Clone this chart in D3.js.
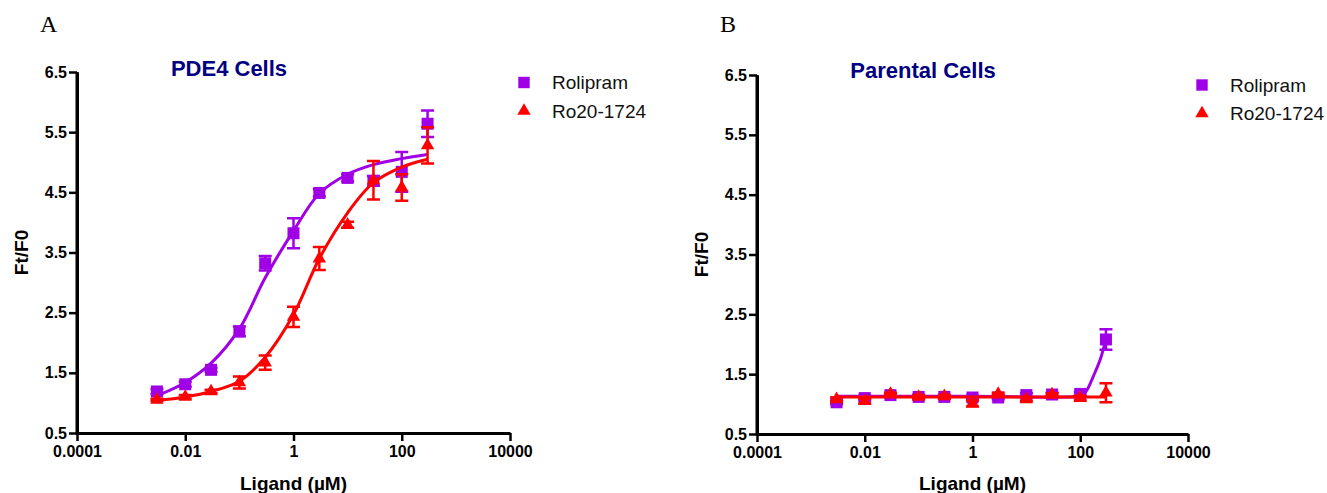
<!DOCTYPE html>
<html>
<head>
<meta charset="utf-8">
<script src="https://cdn.jsdelivr.net/npm/d3@7"></script>
<style>
  body { margin: 0; background: #fff; }
  svg { display: block; }
  .tick text { font-family: "Liberation Sans", Arial, sans-serif; font-weight: bold; font-size: 16px; fill: #000; }
</style>
</head>
<body>
<svg id="chart" width="1327" height="493"></svg>
<script>
// concentrations (µM) used for both compounds in both panels
const conc = [0.003, 0.01, 0.03, 0.1, 0.3, 1, 3, 10, 30, 100, 300];
const xTicks = [0.0001, 0.01, 1, 100, 10000];
const xTickLabels = ["0.0001", "0.01", "1", "100", "10000"];
const yTicks = [0.5, 1.5, 2.5, 3.5, 4.5, 5.5, 6.5];
const seriesNames = ["Rolipram", "Ro20-1724"];

// Panel A: PDE4 cells
const aRoliMean = [1.19, 1.31, 1.55, 2.19, 3.32, 3.82, 4.49, 4.74, 4.69, 4.84, 5.64];
const aRoliErr  = [0.04, 0.04, 0.03, 0.08, 0.12, 0.25, 0.06, 0.06, 0.08, 0.33, 0.22];
const aRoMean   = [1.05, 1.10, 1.19, 1.34, 1.67, 2.43, 3.40, 3.96, 4.70, 4.58, 5.28];
const aRoErr    = [0.02, 0.03, 0.03, 0.10, 0.12, 0.17, 0.19, 0.05, 0.32, 0.22, 0.30];
// fitted curves
const aRoliFitX = conc;
const aRoliFitY = [1.12, 1.34, 1.66, 2.23, 3.08, 3.86, 4.48, 4.80, 4.96, 5.06, 5.13];
const aRoFitX   = conc;
const aRoFitY   = [1.04, 1.10, 1.19, 1.36, 1.76, 2.47, 3.40, 4.16, 4.66, 4.92, 5.05];

// Panel B: parental cells
const bRoliMean = [1.03, 1.10, 1.15, 1.12, 1.12, 1.11, 1.11, 1.15, 1.16, 1.17, 2.08];
const bRoliErr  = [0.03, 0.04, 0.03, 0.03, 0.03, 0.03, 0.03, 0.03, 0.03, 0.03, 0.17];
const bRoMean   = [1.08, 1.05, 1.17, 1.12, 1.13, 1.01, 1.17, 1.08, 1.16, 1.10, 1.19];
const bRoErr    = [0.03, 0.04, 0.02, 0.03, 0.02, 0.05, 0.02, 0.03, 0.02, 0.04, 0.16];
const bRoliFitX = [0.003, 1, 100, 112, 140, 174, 234, 288, 300];
const bRoliFitY = [1.13, 1.13, 1.13, 1.15, 1.27, 1.46, 1.74, 2.02, 2.08];
const bRoFitX   = [0.003, 300];
const bRoFitY   = [1.12, 1.12];

const purple = "#a000e6";
const red = "#ff0000";
const navy = "#000080";
const font = "'Liberation Sans', Arial, sans-serif";

const svg = d3.select("#chart");

function drawPanel(p) {
  const g = svg.append("g");

  const x = d3.scaleLog().domain([0.0001, 10000]).range([p.x0, p.x1]);
  const y = d3.scaleLinear().domain([0.5, 6.5]).range([p.y0, p.y1]);

  // panel letter
  g.append("text")
    .attr("x", p.x0 - 37).attr("y", 32)
    .attr("font-family", "'Liberation Serif', 'Times New Roman', serif")
    .attr("font-size", 24)
    .text(p.letter);

  // title
  g.append("text")
    .attr("x", p.titleX).attr("y", p.titleY)
    .attr("text-anchor", "middle")
    .attr("font-family", font).attr("font-weight", "bold")
    .attr("font-size", 22).attr("fill", navy)
    .text(p.title);

  // axes
  const xAxis = g.append("g")
    .attr("transform", `translate(0,${p.y0})`)
    .call(d3.axisBottom(x).tickValues(xTicks).tickFormat((d, i) => xTickLabels[i])
      .tickSize(8).tickSizeOuter(0).tickPadding(5));
  const yAxis = g.append("g")
    .attr("transform", `translate(${p.x0},0)`)
    .call(d3.axisLeft(y).tickValues(yTicks).tickFormat(d3.format(".1f"))
      .tickSize(8).tickSizeOuter(0).tickPadding(2));
  [xAxis, yAxis].forEach(a => {
    a.select(".domain").attr("stroke", "#000").attr("stroke-width", 3);
    a.selectAll(".tick line").attr("stroke", "#000").attr("stroke-width", 2.5);
  });
  // close the corner
  g.append("path")
    .attr("d", `M${p.x0},${p.y0 + 1.5}V${p.y1}`)
    .attr("stroke", "#000").attr("stroke-width", 3);

  g.append("text")
    .attr("transform", `translate(${p.x0 - 56},${(p.y0 + p.y1) / 2}) rotate(-90)`)
    .attr("text-anchor", "middle").attr("dy", "0.35em")
    .attr("font-family", font).attr("font-weight", "bold").attr("font-size", 19)
    .text("Ft/F0");

  g.append("text")
    .attr("x", (p.x0 + p.x1) / 2).attr("y", 490)
    .attr("text-anchor", "middle")
    .attr("font-family", font).attr("font-weight", "bold").attr("font-size", 19)
    .text("Ligand (µM)");

  const line = d3.line()
    .x(d => x(d[0])).y(d => y(d[1]))
    .curve(d3.curveCatmullRom.alpha(0.5));

  const shapes = [d3.symbol().type(d3.symbolSquare).size(144),
                  d3.symbol().type(d3.symbolTriangle).size(78)];
  const colors = [purple, red];

  p.series.forEach((s, k) => {
    const col = colors[k];
    const pts = conc.map((c, i) => ({ c, v: s.mean[i], e: s.err[i] }));
    const eb = g.append("g").attr("stroke", col).attr("stroke-width", 2.5).attr("fill", "none");
    pts.forEach(d => {
      const xx = x(d.c), yt = y(d.v + d.e), yb = y(d.v - d.e);
      eb.append("path")
        .attr("d", `M${xx},${yt}V${yb}M${xx - 6.5},${yt}H${xx + 6.5}M${xx - 6.5},${yb}H${xx + 6.5}`);
    });
    g.append("path")
      .datum(s.fitX.map((c, i) => [c, s.fitY[i]]))
      .attr("d", line)
      .attr("fill", "none").attr("stroke", col).attr("stroke-width", 3);
    g.selectAll(null).data(pts).enter().append("path")
      .attr("transform", d => `translate(${x(d.c)},${y(d.v)})`)
      .attr("d", shapes[k]())
      .attr("fill", col);
  });

  // legend
  seriesNames.forEach((name, k) => {
    const ly = p.legY + k * 28.5;
    g.append("path")
      .attr("transform", `translate(${p.legX},${ly})`)
      .attr("d", k === 0 ? d3.symbol().type(d3.symbolSquare).size(130)() : d3.symbol().type(d3.symbolTriangle).size(78)())
      .attr("fill", colors[k]);
    g.append("text")
      .attr("x", p.legX + 28).attr("y", ly).attr("dy", "0.35em")
      .attr("font-family", font).attr("font-size", 19).attr("fill", "#111")
      .text(name);
  });
}

drawPanel({
  letter: "A", title: "PDE4 Cells", titleX: 229, titleY: 76,
  x0: 77, x1: 510, y0: 433, y1: 72, legX: 524, legY: 82.5,
  series: [
    { mean: aRoliMean, err: aRoliErr, fitX: aRoliFitX, fitY: aRoliFitY },
    { mean: aRoMean, err: aRoErr, fitX: aRoFitX, fitY: aRoFitY }
  ]
});

drawPanel({
  letter: "B", title: "Parental Cells", titleX: 923, titleY: 78,
  x0: 757, x1: 1188, y0: 434, y1: 75, legX: 1202, legY: 85,
  series: [
    { mean: bRoliMean, err: bRoliErr, fitX: bRoliFitX, fitY: bRoliFitY },
    { mean: bRoMean, err: bRoErr, fitX: bRoFitX, fitY: bRoFitY }
  ]
});
</script>
</body>
</html>
